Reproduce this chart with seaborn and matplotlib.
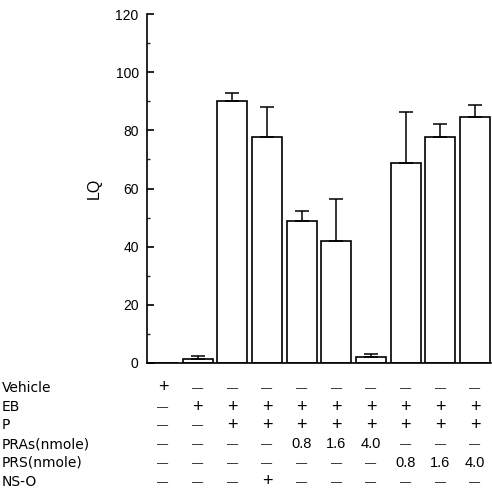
import matplotlib
matplotlib.use("Agg")
import matplotlib.pyplot as plt
import matplotlib.transforms as mtransforms
import numpy as np
import pandas as pd
import seaborn as sns

# ---- data ----
groups = ["G1", "G2", "G3", "G4", "G5", "G6", "G7", "G8", "G9", "G10"]
lq_mean = [0.0, 1.4, 90.1, 77.8, 48.9, 41.8, 2.2, 68.7, 77.8, 84.7]
lq_err = [0.0, 1.0, 2.9, 10.1, 3.4, 14.6, 0.8, 17.6, 4.4, 3.9]

row_labels = ["Vehicle", "EB", "P", "PRAs(nmole)", "PRS(nmole)", "NS-O"]
vehicle = ["+", "—", "—", "—", "—", "—", "—", "—", "—", "—"]
eb      = ["—", "+", "+", "+", "+", "+", "+", "+", "+", "+"]
p       = ["—", "—", "+", "+", "+", "+", "+", "+", "+", "+"]
pras    = ["—", "—", "—", "—", "0.8", "1.6", "4.0", "—", "—", "—"]
prs     = ["—", "—", "—", "—", "—", "—", "—", "0.8", "1.6", "4.0"]
nso     = ["—", "—", "—", "+", "—", "—", "—", "—", "—", "—"]
table_rows = [vehicle, eb, p, pras, prs, nso]

y_ticks = [0, 20, 40, 60, 80, 100, 120]

# ---- figure ----
sns.set_theme(style="white")
plt.rcParams["font.family"] = ["Liberation Sans", "DejaVu Sans"]
plt.rcParams["ytick.direction"] = "in"

W, H = 492, 504
fig = plt.figure(figsize=(W / 100, H / 100), dpi=100)
ax = fig.add_axes([147 / W, (H - 363) / H, (491 - 147) / W, (363 - 14) / H])

df = pd.DataFrame({"group": groups, "LQ": lq_mean})
sns.barplot(data=df, x="group", y="LQ", order=groups, color="white",
            edgecolor="black", linewidth=1.2, width=0.87, errorbar=None, ax=ax)

x = np.arange(len(groups))
mask = np.array(lq_err) > 0
ax.errorbar(x[mask], np.array(lq_mean)[mask],
            yerr=[np.zeros(mask.sum()), np.array(lq_err)[mask]],
            fmt="none", ecolor="black", elinewidth=1.1, capsize=5, capthick=1.1)

ax.set_xlim(-0.46, 9.46)
ax.set_ylim(0, 120)
ax.set_yticks(y_ticks)
ax.set_yticks(np.arange(10, 120, 20), minor=True)
ax.yaxis.set_tick_params(which="major", direction="in", length=5, width=1.2,
                         left=True, labelsize=10, pad=6, colors="black")
ax.yaxis.set_tick_params(which="minor", direction="in", length=2.5, width=1,
                         left=True)
ax.set_xticks([])
ax.set_xlabel("")
ax.set_ylabel("LQ", fontsize=11.5, labelpad=10, color="black")

for side in ["top", "right"]:
    ax.spines[side].set_visible(False)
for side in ["left", "bottom"]:
    ax.spines[side].set_color("black")
    ax.spines[side].set_linewidth(1.2)

# ---- treatment table ----
trans = mtransforms.blended_transform_factory(ax.transData, fig.transFigure)
row_py = [388, 407, 425, 444, 463, 482]
for label, vals, py in zip(row_labels, table_rows, row_py):
    yf = (H - py) / H
    fig.text(2 / W, yf, label, fontsize=10, ha="left", va="center",
             color="black", family=["DejaVu Sans"])
    for xi, v in zip(x, vals):
        if v == "+":
            ax.text(xi, yf, v, transform=trans, fontsize=13, ha="center",
                    va="center", color="black", clip_on=False)
        elif v == "—":
            ax.text(xi, yf, v, transform=trans, fontsize=8, ha="center",
                    va="center", color="black", clip_on=False)
        else:
            ax.text(xi, yf, v, transform=trans, fontsize=10.5, ha="center",
                    va="center", color="black", clip_on=False)

fig.savefig("out.png", dpi=100)
